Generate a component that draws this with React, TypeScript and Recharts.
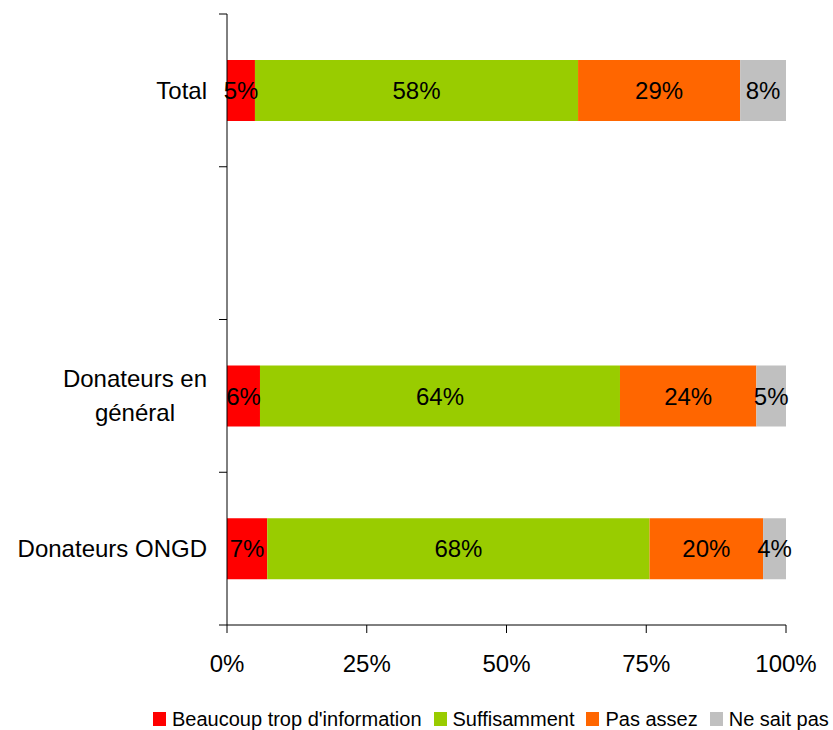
import * as React from "react";
import {
  BarChart,
  Bar,
  XAxis,
  YAxis,
  LabelList,
  Legend,
} from "recharts";

// Categories top to bottom; the empty one is the gap row between Total and the groups.
const categories = ["Total", "", "Donateurs en\ngénéral", "Donateurs ONGD"];
const beaucoupTrop = [5.0, null, 5.9, 7.2];
const suffisamment = [57.8, null, 64.4, 68.4];
const pasAssez = [29.0, null, 24.4, 20.3];
const neSaitPas = [8.2, null, 5.3, 4.1];
const xTicks = [0, 25, 50, 75, 100];

const series = [
  { key: "beaucoup", name: "Beaucoup trop d'information", color: "#FF0000", values: beaucoupTrop },
  { key: "suffisamment", name: "Suffisamment", color: "#99CC00", values: suffisamment },
  { key: "pasAssez", name: "Pas assez", color: "#FF6600", values: pasAssez },
  { key: "neSaitPas", name: "Ne sait pas", color: "#C0C0C0", values: neSaitPas },
];

const data = categories.map((name, i) => {
  const row: Record<string, string | number | null> = { name };
  series.forEach((s) => {
    row[s.key] = s.values[i];
  });
  return row;
});

const FONT = "'Liberation Sans', Arial, sans-serif";
const LABEL_GAP = 20; // space between axis line and label text
const TICK_LEN = 8;

let measureCtx: CanvasRenderingContext2D | null = null;
function textWidth(text: string, size: number) {
  if (!measureCtx) measureCtx = document.createElement("canvas").getContext("2d");
  if (!measureCtx) return text.length * size * 0.55;
  measureCtx.font = `${size}px ${FONT}`;
  return measureCtx.measureText(text).width;
}

// Category label plus the Excel-style tick marks on the band edges.
// Multi-line labels are centred as a block whose right edge sits at x.
function CategoryTick(props: any) {
  const { x, y, payload, index, visibleTicksCount, height } = props;
  const count = Number(visibleTicksCount) || categories.length;
  const band = Number(height) > 0 ? Number(height) / count : 152.75;
  const axisX = x + LABEL_GAP;
  const lines = String(payload.value ?? "").split("\n");
  const marks = (
    <g stroke="#000" strokeWidth={1}>
      <line x1={axisX - TICK_LEN} x2={axisX} y1={y - band / 2} y2={y - band / 2} />
      {index === count - 1 && (
        <line x1={axisX - TICK_LEN} x2={axisX} y1={y + band / 2} y2={y + band / 2} />
      )}
    </g>
  );
  if (lines.length === 1) {
    return (
      <g>
        {marks}
        <text x={x} y={y} dy="0.355em" textAnchor="end" fontSize={24} fill="#000" fontFamily={FONT}>
          {lines[0]}
        </text>
      </g>
    );
  }
  const maxW = Math.max(...lines.map((l) => textWidth(l, 24)));
  const cx = x - maxW / 2;
  const lh = 34;
  return (
    <g>
      {marks}
      <text x={cx} y={y} textAnchor="middle" fontSize={24} fill="#000" fontFamily={FONT}>
        {lines.map((l, i) => (
          <tspan key={i} x={cx} y={y + (i - (lines.length - 1) / 2) * lh} dy="0.355em">
            {l}
          </tspan>
        ))}
      </text>
    </g>
  );
}

function LegendContent() {
  return (
    <div style={{ display: "flex", alignItems: "center", fontFamily: FONT, fontSize: 20, color: "#000", whiteSpace: "nowrap" }}>
      {series.map((s) => (
        <div key={s.key} style={{ display: "flex", alignItems: "center", marginRight: 12 }}>
          <span style={{ display: "inline-block", width: 13, height: 14, background: s.color, marginRight: 6 }} />
          <span style={{ lineHeight: "20px" }}>{s.name}</span>
        </div>
      ))}
    </div>
  );
}

const pct = (v: any) => (v === null || v === undefined || v === "" ? "" : `${Math.round(Number(v))}%`);

export default function App() {
  return (
    <div style={{ position: "absolute", left: 0, top: 0, width: 833, height: 730, background: "#fff" }}>
      <BarChart
        width={833}
        height={730}
        data={data}
        layout="vertical"
        margin={{ top: 14, right: 47, bottom: 45, left: 0 }}
        barSize={61}
        style={{ fontFamily: FONT }}
      >
        <YAxis
          type="category"
          dataKey="name"
          orientation="left"
          width={227}
          axisLine={{ stroke: "#000" }}
          tickLine={false}
          tickSize={0}
          tickMargin={LABEL_GAP}
          interval={0}
          tick={<CategoryTick />}
        />
        <XAxis
          type="number"
          domain={[0, 100]}
          ticks={xTicks}
          tickFormatter={(v) => `${v}%`}
          height={60}
          tickSize={8}
          tickMargin={22}
          stroke="#000"
          axisLine={{ stroke: "#000" }}
          tickLine={{ stroke: "#000" }}
          tick={{ fill: "#000", fontSize: 24, fontFamily: FONT }}
          interval={0}
        />
        {series.map((s) => (
          <Bar
            key={s.key}
            dataKey={s.key}
            name={s.name}
            stackId="a"
            fill={s.color}
            isAnimationActive={false}
          >
            <LabelList
              dataKey={s.key}
              position="center"
              formatter={pct}
              fill="#000"
              fontSize={24}
              fontFamily={FONT}
            />
          </Bar>
        ))}
        <Legend
          layout="horizontal"
          verticalAlign="middle"
          align="center"
          content={<LegendContent />}
          wrapperStyle={{ position: "absolute", left: 153, top: 709, width: 690, height: 20 }}
        />
      </BarChart>
    </div>
  );
}
